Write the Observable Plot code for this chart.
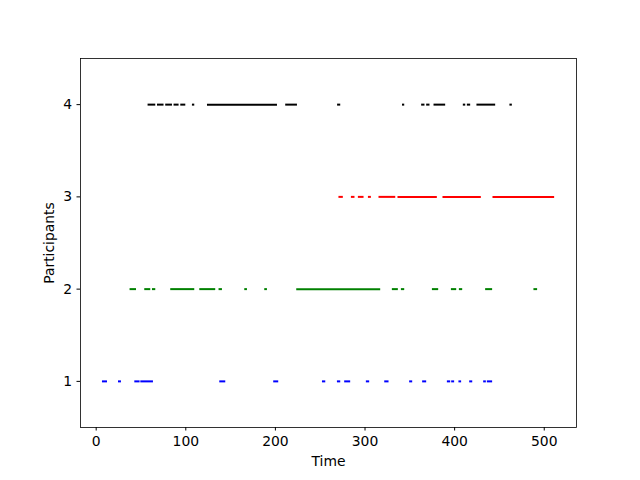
<!DOCTYPE html>
<html><head><meta charset="utf-8">
<script src="https://cdn.jsdelivr.net/npm/d3@7"></script>
<script src="https://cdn.jsdelivr.net/npm/@observablehq/plot@0.6"></script>
<style>body{margin:0;background:#fff} svg{display:block}</style>
</head><body><div id="chart"></div>
<script>
const participants = [1, 2, 3, 4];
const colors = ["blue", "green", "red", "black"];
const xTicks = [0, 100, 200, 300, 400, 500];
// speaking intervals [start, end] per participant
const p1 = [[7.0,12.6],[24.9,28.2],[43.1,49.0],[49.8,63.9],[137.9,144.6],[198.1,203.7],[252.5,256.2],[269.2,272.9],[277.3,284.0],[301.5,305.2],[322.0,326.8],[349.8,353.2],[364.3,368.8],[391.9,395.6],[396.7,400.0],[404.8,407.8],[416.8,420.2],[432.4,435.4],[436.5,442.4]];
const p2 = [[37.8,45.0],[54.2,60.9],[62.8,66.5],[83.2,110.0],[115.6,133.4],[137.1,140.9],[165.8,168.8],[188.1,191.1],[223.8,317.5],[330.5,337.2],[340.6,344.3],[375.2,382.2],[396.4,402.3],[405.3,409.0],[434.6,442.4],[488.5,492.6]];
const p3 = [[270.9,275.8],[284.8,288.8],[292.6,298.9],[303.8,307.1],[315.6,334.3],[336.8,380.7],[387.0,429.8],[442.8,511.6]];
const p4 = [[57.9,66.5],[68.4,75.7],[77.6,85.1],[86.9,92.5],[94.4,100.0],[107.4,110.0],[124.2,202.3],[211.5,224.6],[269.4,272.9],[341.8,344.3],[363.2,366.9],[368.8,372.5],[377.0,390.0],[409.7,412.4],[414.2,417.9],[424.9,445.8],[461.7,464.4]];

const rows = [];
[p1, p2, p3, p4].forEach((segs, i) => segs.forEach(([a, b]) => rows.push({participant: participants[i], start: a, end: b})));

const chart = Plot.plot({
  width: 640, height: 480,
  marginLeft: 80, marginRight: 64, marginTop: 58, marginBottom: 53,
  style: {fontFamily: "DejaVu Sans", fontSize: "13.9px", background: "white", color: "black"},
  x: {domain: [-17.5, 536], ticks: xTicks, tickFormat: d => String(d), tickSize: 3.5, tickPadding: 5,
      label: "Time", labelAnchor: "center", labelArrow: "none", labelOffset: 38},
  y: {domain: [0.5, 4.5], ticks: participants, tickFormat: d => String(d), tickSize: 3.5, tickPadding: 5,
      label: "Participants", labelAnchor: "center", labelArrow: "none", labelOffset: 36},
  color: {domain: participants, range: colors},
  marks: [
    Plot.frame({stroke: "black", strokeWidth: 0.8}),
    Plot.ruleY(rows, {y: "participant", x1: "start", x2: "end", stroke: "participant", strokeWidth: 2})
  ]
});
document.getElementById("chart").appendChild(chart);
</script>
</body></html>
